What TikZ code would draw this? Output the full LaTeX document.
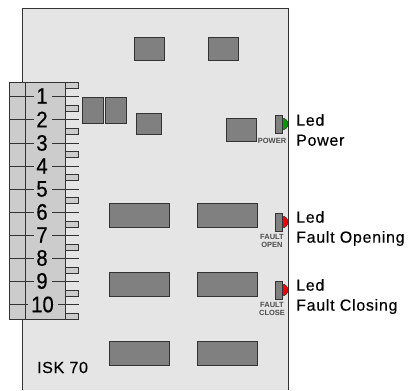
\documentclass[tikz,border=0pt]{standalone}
\usepackage{fontspec}
\setmainfont{Liberation Sans}
\newfontfamily\labfont[LetterSpace=4.5,FakeBold=0.25]{Liberation Sans}
\newfontfamily\numfont[FakeBold=0.6]{Liberation Sans}
\definecolor{board}{HTML}{E5E5E5}
\definecolor{block}{HTML}{CCCCCC}
\definecolor{chip}{HTML}{808080}
\definecolor{edge}{HTML}{333333}
\definecolor{ledgreen}{HTML}{009900}
\definecolor{ledred}{HTML}{F00000}
\tikzset{
  chipbox/.style={draw=edge,fill=chip,line width=0.9pt},
  tabbox/.style={draw=edge,fill=block,line width=0.9pt},
  tick/.style={draw=edge,line width=0.8pt},
  num/.style={font=\numfont\fontsize{22.5}{22}\selectfont,text=black,inner sep=0pt,xscale=0.9},
  ledbody/.style={draw=edge,fill=chip,line width=0.8pt},
  tiny/.style={font=\bfseries\fontsize{7.5}{8}\selectfont,text=black!70,align=center,inner sep=0pt},
  lab/.style={font=\labfont\fontsize{16}{20}\selectfont,anchor=west,align=left,inner sep=0pt}
}
\begin{document}
\begin{tikzpicture}[x=1pt,y=-1pt]
\useasboundingbox (0,0) rectangle (414,390);
% board
\fill[board] (22,8.5) rectangle (288.5,390);
\draw[edge,line width=0.9pt] (22,390) -- (22,8.5) -- (288.5,8.5) -- (288.5,390);
% tabs
\foreach \y in {82,105,128,151,174.5,197.5,221,244,267,290,313}
  \draw[tabbox] (65,\y) rectangle (78.5,\y+6);
% terminal block
\draw[edge,fill=block,line width=0.9pt] (9.5,82) rectangle (65,319);
\draw[edge,line width=0.9pt] (25,82) -- (25,319);
% terminals
\foreach \n/\y in {1/96,2/119.5,3/143,4/166,5/189,6/212,7/235,8/258,9/281}{
  \draw[tick] (9.5,\y) -- (33.5,\y);
  \draw[tick] (51.5,\y) -- (78.5,\y);
  \node[num] (t\n) at (42,\y) {\n};
}
\draw[tick] (9.5,304.5) -- (28,304.5);
\draw[tick] (57.5,304.5) -- (78.5,304.5);
\node[num] (t10) at (42.5,304.5) {10};
% chips
\draw[chipbox] (134.5,37) rectangle (164.5,60);
\draw[chipbox] (208.5,37) rectangle (238.5,60);
\draw[chipbox] (82.5,97.5) rectangle (103,123.5);
\draw[chipbox] (105.5,97.5) rectangle (126,123.5);
\draw[chipbox] (136,113) rectangle (161.5,134.5);
\draw[chipbox] (226,118.5) rectangle (256,141);
\foreach \y in {203,272,341}{
  \draw[chipbox] (109.5,\y) rectangle (169,\y+24);
  \draw[chipbox] (197.5,\y) rectangle (257,\y+24);
}
% leds
\fill[ledgreen,draw=edge,line width=0.5pt] (282,118) arc (-90:90:6 and 6) -- cycle;
\draw[ledbody] (275.5,115.5) rectangle (282,133);
\fill[ledred,draw=edge,line width=0.5pt] (282,216) arc (-90:90:6 and 6) -- cycle;
\draw[ledbody] (275.5,213) rectangle (282,231);
\fill[ledred,draw=edge,line width=0.5pt] (282,284) arc (-90:90:6 and 6) -- cycle;
\draw[ledbody] (275.5,281) rectangle (282,299);
% small labels
\node[tiny] (p) at (272,140.5) {POWER};
\node[tiny] (fo) at (272,241) {FAULT\\OPEN};
\node[tiny] (fc) at (272,309) {FAULT\\CLOSE};
% large labels
\node[lab] (l1) at (296,130) {Led\\Power};
\node[lab] (l2) at (296,228.5) {Led\\Fault Opening};
\node[lab] (l3) at (296,296.5) {Led\\Fault Closing};
\node[font=\labfont\fontsize{16}{16}\selectfont,inner sep=0pt] (isk) at (62.5,367.5) {ISK 70};
\end{tikzpicture}
\end{document}
